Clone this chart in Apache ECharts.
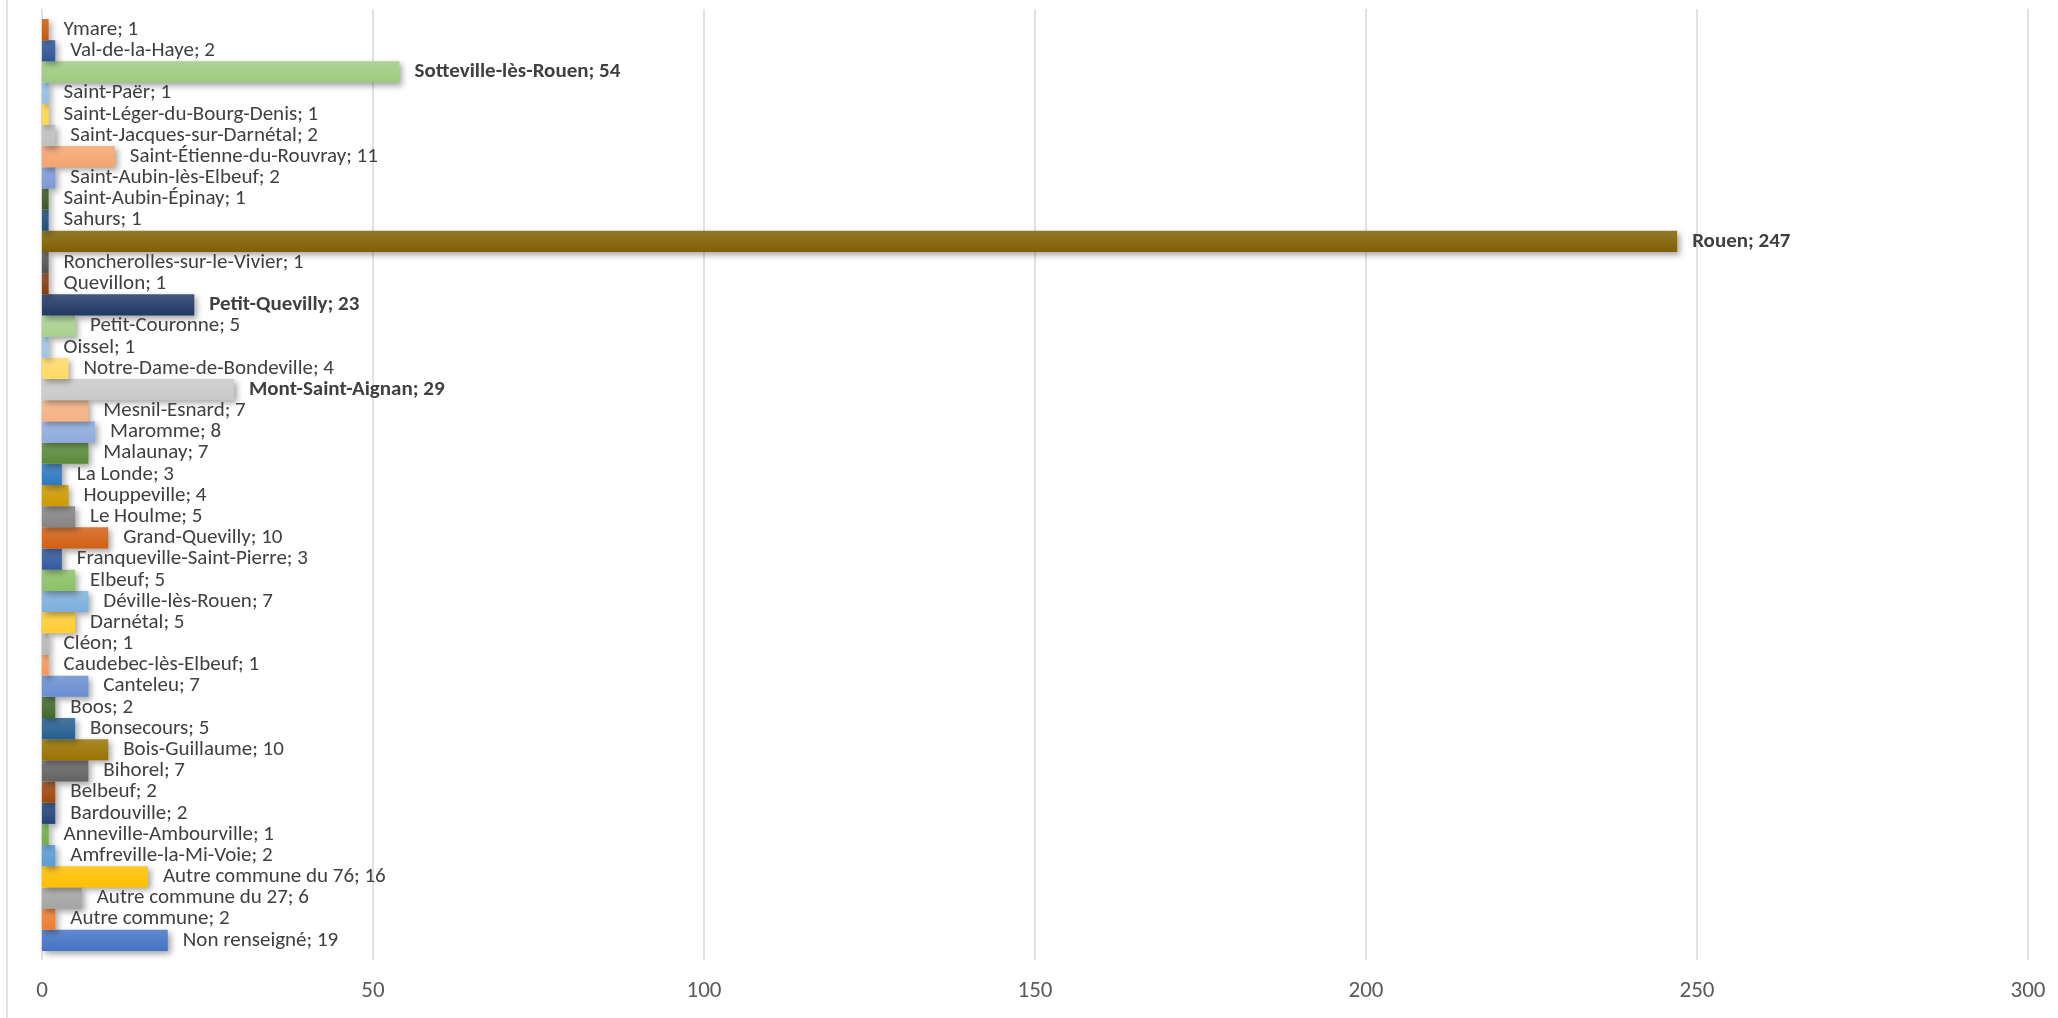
<!DOCTYPE html>
<html>
<head>
<meta charset="utf-8">
<script src="https://cdn.jsdelivr.net/npm/echarts@6/dist/echarts.min.js"></script>
<style>
  html, body { margin: 0; padding: 0; background: #fff; }
  #chart { width: 2058px; height: 1018px; }
</style>
</head>
<body>
<div id="chart"></div>
<script>
// communes, listed from the bottom bar to the top one
let communes = [
  'Non renseigné', 'Autre commune', 'Autre commune du 27', 'Autre commune du 76',
  'Amfreville-la-Mi-Voie', 'Anneville-Ambourville', 'Bardouville', 'Belbeuf',
  'Bihorel', 'Bois-Guillaume', 'Bonsecours', 'Boos', 'Canteleu',
  'Caudebec-lès-Elbeuf', 'Cléon', 'Darnétal', 'Déville-lès-Rouen', 'Elbeuf',
  'Franqueville-Saint-Pierre', 'Grand-Quevilly', 'Le Houlme', 'Houppeville',
  'La Londe', 'Malaunay', 'Maromme', 'Mesnil-Esnard', 'Mont-Saint-Aignan',
  'Notre-Dame-de-Bondeville', 'Oissel', 'Petit-Couronne', 'Petit-Quevilly',
  'Quevillon', 'Roncherolles-sur-le-Vivier', 'Rouen', 'Sahurs',
  'Saint-Aubin-Épinay', 'Saint-Aubin-lès-Elbeuf', 'Saint-Étienne-du-Rouvray',
  'Saint-Jacques-sur-Darnétal', 'Saint-Léger-du-Bourg-Denis', 'Saint-Paër',
  'Sotteville-lès-Rouen', 'Val-de-la-Haye', 'Ymare'
];

let counts = [
  19, 2, 6, 16,
  2, 1, 2, 2,
  7, 10, 5, 2, 7,
  1, 1, 5, 7, 5,
  3, 10, 5, 4,
  3, 7, 8, 7, 29,
  4, 1, 5, 23,
  1, 1, 247, 1,
  1, 2, 11,
  2, 1, 1,
  54, 2, 1
];

// office "varied colours" cycle, same order as communes
let barColors = [
  '#4472C4', '#ED7D31', '#A5A5A5', '#FFC000', '#5B9BD5', '#70AD47',
  '#264478', '#9E480E', '#636363', '#997300', '#255E91', '#43682B',
  '#698ED0', '#F1975A', '#B7B7B7', '#FFCD33', '#7CAFDD', '#8CC168',
  '#3359A0', '#D26012', '#848484', '#CC9A00', '#2E78C0', '#5A8A39',
  '#8FAADC', '#F4B183', '#C9C9C9', '#FFD966', '#9DC3E6', '#A9D18E',
  '#203864', '#843C0C', '#525252', '#7F6000', '#1F4E79', '#385723',
  '#7D9AD8', '#F4A46F', '#C0C0C0', '#FFD54D', '#92BFE4', '#9DCB7F',
  '#2F5597', '#C55A11'
];

let axisMax = 300;
let axisStep = 50;
let boldFrom = 20;

let fontName = 'Carlito, Roboto, sans-serif';

function tint(hex, k) {
  let n = parseInt(hex.slice(1), 16);
  let r = (n >> 16) & 255, g = (n >> 8) & 255, b = n & 255;
  r = Math.round(r + (255 - r) * k);
  g = Math.round(g + (255 - g) * k);
  b = Math.round(b + (255 - b) * k);
  return 'rgb(' + r + ',' + g + ',' + b + ')';
}

let barData = counts.map(function (v, i) {
  let c = barColors[i];
  return {
    value: v,
    itemStyle: {
      color: new echarts.graphic.LinearGradient(0, 0, 0, 1, [
        { offset: 0, color: tint(c, 0.16) },
        { offset: 1, color: c }
      ])
    },
    label: { fontWeight: v >= boldFrom ? 'bold' : 'normal' }
  };
});

let chart = echarts.init(document.getElementById('chart'), null, { renderer: 'canvas' });

chart.setOption({
  animation: false,
  backgroundColor: '#ffffff',
  textStyle: { fontFamily: fontName },
  grid: [
    // bars
    { left: 42, right: 30, top: 19, bottom: 67, containLabel: false },
    // gridlines + tick labels (a bit taller than the bars)
    { left: 42, right: 30, top: 9, bottom: 58, containLabel: false }
  ],
  xAxis: [{
    gridIndex: 0,
    type: 'value',
    min: 0,
    max: axisMax,
    interval: axisStep,
    show: false
  }, {
    gridIndex: 1,
    type: 'value',
    min: 0,
    max: axisMax,
    interval: axisStep,
    axisLine: { show: false },
    axisTick: { show: false },
    splitLine: { show: true, lineStyle: { color: '#D9D9D9', width: 1.5 } },
    axisLabel: { color: '#595959', fontSize: 23, margin: 20, fontFamily: fontName }
  }],
  yAxis: [{
    gridIndex: 0,
    type: 'category',
    data: communes,
    axisLine: { show: false },
    axisTick: { show: false },
    axisLabel: { show: false }
  }, {
    gridIndex: 1,
    type: 'value',
    show: false
  }],
  graphic: [{
    type: 'line',
    shape: { x1: 7, y1: 0, x2: 7, y2: 1018 },
    style: { stroke: '#D9D9D9', lineWidth: 1.5 },
    silent: true
  }],
  series: [{
    type: 'bar',
    xAxisIndex: 0,
    yAxisIndex: 0,
    barCategoryGap: '0%',
    data: barData,
    itemStyle: {
      shadowColor: 'rgba(0,0,0,0.35)',
      shadowBlur: 6,
      shadowOffsetX: 3,
      shadowOffsetY: 3
    },
    label: {
      show: true,
      position: 'right',
      distance: 15,
      color: '#404040',
      fontSize: 21,
      fontFamily: fontName,
      formatter: '{b}; {c}'
    },
    z: 3
  }]
});
</script>
</body>
</html>
